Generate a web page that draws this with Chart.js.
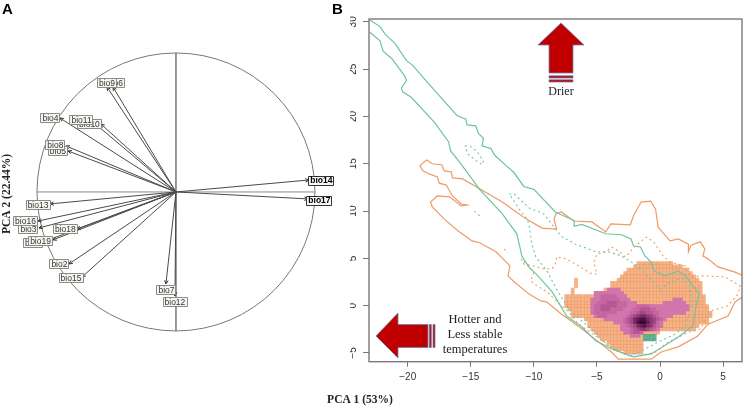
<!DOCTYPE html>
<html><head><meta charset="utf-8">
<script src="https://cdn.jsdelivr.net/npm/chart.js@4"></script>
<style>html,body{margin:0;padding:0;background:#fff;overflow:hidden}canvas{position:absolute;top:0}#a{left:0}#b{left:350px}</style>
</head><body>
<canvas id="b" width="396" height="407"></canvas>
<canvas id="a" width="400" height="407"></canvas>
<script>
// Panel A: PCA loadings, drawn back to front
const varNames = ['bio6','bio9','bio10','bio11','bio4','bio5','bio8','bio13','bio3','bio16','bio18','bio1','bio19','bio2','bio15','bio7','bio12','bio14','bio17'];
const loadX = [-0.453,-0.496,-0.54,-0.597,-0.835,-0.777,-0.791,-0.906,-0.986,-0.993,-0.712,-0.957,-0.885,-0.77,-0.676,-0.072,-0.007,0.957,0.95];
const loadY = [0.755,0.755,0.489,0.504,0.532,0.295,0.331,-0.086,-0.259,-0.209,-0.266,-0.36,-0.345,-0.518,-0.612,-0.662,-0.748,0.086,-0.05];
const labelX = [-0.442,-0.5,-0.626,-0.683,-0.906,-0.853,-0.871,-0.996,-1.065,-1.086,-0.799,-1.032,-0.978,-0.842,-0.759,-0.072,-0.011,1.043,1.029];
const labelY = [0.788,0.788,0.493,0.522,0.536,0.295,0.338,-0.09,-0.266,-0.205,-0.266,-0.363,-0.349,-0.514,-0.615,-0.701,-0.788,0.086,-0.058];
const boldVars = ['bio14','bio17'];

// Panel B: axes
const xTicks = [-20,-15,-10,-5,0,5];
const yTicks = [-5,0,5,10,15,20,25,30];

// Panel B: contours [PCA1, PCA2]
const tealSolid = [[-23,30.2],[-22.2,29.5],[-21.8,28.7],[-21,27.7],[-20.1,25.9],[-19.6,25.4],[-18.7,24],[-17.5,22.2],[-16.1,20.1],[-15.4,19.7],[-15.3,19.1],[-14.6,19],[-14.4,18.2],[-14,17.7],[-14.1,16.9],[-13.4,16.6],[-13.1,15.9],[-12.2,14.8],[-11.6,14.1],[-10.8,12.6],[-10,12.3],[-8.3,9.9],[-6.8,9],[-6.8,8.4],[-6.2,8.6],[-4.3,7.6],[-3.05,7.5],[-2.3,7.05],[-2.1,6.3],[-1.55,6.2],[-1.2,5.25],[-0.7,4.6],[-0.5,3.7],[0.4,3.15],[1.45,3.65],[2.05,3.15],[2.6,2.1],[3.1,1.25],[2.8,-0.35],[2.6,-2.15],[1.45,-3.3],[-0.7,-5.1],[-2.1,-5.4],[-3.85,-4.55],[-5.1,-3.7],[-6.2,-2.25],[-7.4,-1.1],[-8.55,1.45],[-9.6,3.05],[-10.4,4.1],[-10.95,5.25],[-11.35,7.6],[-12.5,9.7],[-14.3,12.3],[-15.9,15.2],[-16.6,16.35],[-16.75,17.3],[-17.9,19.4],[-19.7,22],[-20.4,22.6],[-20.5,23],[-20.1,23.8],[-20.25,24.3],[-21.25,26.1],[-21.95,26.9],[-22.2,28],[-23,28.9]];
const orangeSolid = [[-19.05,14.8],[-18.5,15.4],[-18.05,15],[-17.3,14.9],[-17.1,14.25],[-16.55,14.15],[-16.45,13.5],[-15.65,13.4],[-14.3,12.35],[-12.5,10.95],[-11.7,10.2],[-10.6,9.15],[-9.35,8.2],[-8.2,8.1],[-8.4,9.15],[-8.25,9.7],[-7.8,9.9],[-6.85,8.95],[-5.4,8.85],[-4.3,7.8],[-3.9,8.65],[-2.35,8.55],[-2.1,9.5],[-1.5,10.95],[-0.75,11.05],[-0.35,10.2],[-0.15,8.3],[0.8,6.85],[1.45,7.05],[2.25,6.5],[2.25,5.7],[2.45,6.4],[3.2,6.75],[3.55,6],[3.4,5.25],[3.8,4.95],[4.6,4.1],[5.95,3.55],[6.8,3.05],[6.8,1.15],[5.95,0.4],[5.4,-1.1],[3.8,-1.95],[3,-3.2],[1.45,-4.35],[0.1,-4.9],[-0.7,-5.65],[-3.3,-5.65],[-3.85,-4.9],[-6.2,-2.45],[-7.8,-0.9],[-9,0.4],[-9.45,0.5],[-10.4,1.25],[-11.55,2.5],[-12.05,3.15],[-11.9,4.2],[-13,5.7],[-14.3,6.65],[-14.9,6.85],[-16,7.9],[-17.1,9.15],[-18.05,10.45],[-18.2,10.95],[-17.65,11.6],[-16.7,11.5],[-15.75,10.55],[-15.3,10.65],[-15.75,10.75],[-16.45,11.6],[-16.95,12.75],[-17.5,12.95],[-17.65,13.6],[-18.25,13.9],[-18.8,14.25],[-19.05,14.8]];
const tealDashSmall = [[-15.45,16.9],[-15.1,16.9],[-14.55,16.35],[-14,15.3],[-14.1,14.9],[-14.55,15.3],[-15.25,16.05],[-15.45,16.9]];
const tealDash = [[-11.95,11.8],[-11.55,11.8],[-10.4,10.35],[-9.2,9.7],[-7.85,7.35],[-6.7,6.5],[-5.1,5.7],[-4.1,5.7],[-3.05,5.25],[-2.25,4.6],[-1.7,4.1],[-0.9,3.05],[0,1.75],[0.65,2.3],[1.7,2.95],[2.4,2],[2.45,-0.15],[2,-2.15],[1.2,-3],[-0.15,-3.85],[-1.5,-4.8],[-2.5,-5.3],[-4.1,-4.25],[-5.65,-2.25],[-7,-0.65],[-7.4,0],[-8.2,1.75],[-8.95,3.65],[-9.85,5.15],[-10.15,6.5],[-10.4,8.65],[-10.55,9.15],[-11.15,10.2],[-11.8,11.5],[-11.95,11.8]];
const orangeDash = [[-11,4.95],[-10.8,4.4],[-10,4.2],[-9.35,3.9],[-8.55,3.9],[-8.25,4.6],[-8.2,5.15],[-7.45,4.95],[-6.45,4.2],[-5.4,3.35],[-5,3.35],[-5.25,4.6],[-5,5.45],[-4.25,5.7],[-3.85,6.2],[-3.3,5.8],[-2.75,5.15],[-1.95,6.3],[-1.1,7.25],[-0.5,6.75],[0.25,5.25],[0.8,4.6],[2,4.2],[2.4,3.05],[3.4,3.15],[5.15,3.05],[6.35,2.1],[6.2,1.25],[5.4,0],[3.8,-0.65],[3.25,-2.45],[2.25,-2.8],[0.65,-3.85],[-0.35,-4.9],[-1.95,-5.4],[-3.3,-4.9],[-5.1,-3.2],[-6.45,-1.95],[-7.25,-0.65],[-8,0.2],[-8.95,1.45],[-9.75,2.1],[-10.25,2.6],[-10,3.55],[-11,4.95]];
const orangeDots1 = [[-14.7,10],[-14.3,9.5]];
const orangeDots2 = [[-12.35,6],[-12.05,5.6]];

// Panel B: raster, on a regular grid of cells
const gridX0 = -7.7, gridDX = 0.26, gridY0 = 4.5, gridDY = 0.35;
const orangeRow  = [0,1,2,3,4,5,6,7,8,9,10,11,12,13,14,15,16,17,18,19,20,21,22,23,24,25,26,27,5,6,7,8,9];
const orangeFrom = [23,22,20,19,18,17,15,15,13,12,1,1,1,1,2,3,3,7,8,8,9,10,11,12,14,15,16,19,4,4,4,3,3];
const orangeTo   = [33,36,38,39,40,41,42,42,42,42,43,43,43,44,44,45,45,44,44,41,40,29,24,24,24,24,24,24,4,4,4,3,3];
const tealCellCol = [11,25,26,27,28,25,26,27,28];
const tealCellRow = [9,22,22,22,22,23,23,23,23];
const densityFirstRow = 8, densityFirstCol = 9;
const densityRows = [
 ".....1111",
 ".111111111",
 ".1122222111",
 "111222222111.............111",
 "11222333222111........1111111",
 "122333332221112222111111111111",
 "122333222211122333221111111111",
 "12222222111122344332211111111",
 ".122211111123456654321111",
 "....1111112346788654321",
 ".......111234689975421",
 ".........1123467865321",
 ".........111234554321",
 "..........112332",
 "............111"
];
const densityColors = [null,'#d275ad','#c665a2','#b55794','#a24786','#8e3775','#792965','#631c55','#4f1045','#3d0837'];

const cell = (c,r)=>({x:gridX0+gridDX*c, y:gridY0-gridDY*r});
const orangeCells = [];
orangeRow.forEach((r,i)=>{for(let c=orangeFrom[i];c<=orangeTo[i];c++)orangeCells.push(cell(c,r));});
const tealCells = tealCellCol.map((c,i)=>cell(c,tealCellRow[i]));
const densityCells = [], densityFill = [];
densityRows.forEach((s,r)=>{[...s].forEach((ch,c)=>{const v=+ch; if(ch!=='.'&&v>0){densityCells.push(cell(c+densityFirstCol,r+densityFirstRow));densityFill.push(densityColors[v]);}});});
const pts = a=>a.map(p=>({x:p[0],y:p[1]}));

const SERIF='"Liberation Serif", serif', SANS='"Liberation Sans", sans-serif';
const base = {animation:false,responsive:false,events:[],plugins:{legend:{display:false},tooltip:{enabled:false}}};
const lineSet = (d,col,w,dash)=>({type:'scatter',showLine:true,data:d,borderColor:col,borderWidth:w,borderDash:dash||[],pointRadius:0,tension:0,fill:false});

// ---------- Panel A
const aDatasets = [
  lineSet([{x:-1,y:0},{x:1,y:0}],'#8a8a8a',1),
  lineSet([{x:0,y:1},{x:0,y:-1}],'#8a8a8a',1),
];
varNames.forEach((n,i)=>aDatasets.unshift(lineSet([{x:0,y:0},{x:loadX[i],y:loadY[i]}],'#4a4a4a',1)));
const panelA = {id:'panelA',
 beforeDatasetsDraw(ch){const {ctx,scales:{x,y}}=ch;ctx.save();ctx.strokeStyle='#777';ctx.lineWidth=1;ctx.beginPath();
   ctx.arc(x.getPixelForValue(0),y.getPixelForValue(0),x.getPixelForValue(1)-x.getPixelForValue(0),0,Math.PI*2);ctx.stroke();ctx.restore();},
 afterDatasetsDraw(ch){const {ctx,scales:{x,y}}=ch;ctx.save();
   varNames.forEach((n,i)=>{const tx=x.getPixelForValue(loadX[i]),ty=y.getPixelForValue(loadY[i]),ox=x.getPixelForValue(0),oy=y.getPixelForValue(0);
     const ang=Math.atan2(ty-oy,tx-ox);ctx.strokeStyle='#333';ctx.lineWidth=1;ctx.beginPath();
     ctx.moveTo(tx-4*Math.cos(ang-0.45),ty-4*Math.sin(ang-0.45));ctx.lineTo(tx,ty);ctx.lineTo(tx-4*Math.cos(ang+0.45),ty-4*Math.sin(ang+0.45));ctx.stroke();});
   ctx.textAlign='center';ctx.textBaseline='middle';
   varNames.forEach((n,i)=>{const bold=boldVars.includes(n);const cx=x.getPixelForValue(labelX[i]),cy=y.getPixelForValue(labelY[i]);
     ctx.font=(bold?'bold ':'')+'8.5px '+SANS;const w=ctx.measureText(n).width+3;
     ctx.fillStyle='#f7f7f2';ctx.strokeStyle=bold?'#333':'#8a8a86';ctx.lineWidth=1;
     ctx.beginPath();ctx.rect(Math.round(cx-w/2)+.5,Math.round(cy-4.5)+.5,Math.round(w),9);ctx.fill();ctx.stroke();
     ctx.fillStyle=bold?'#000':'#333';ctx.fillText(n,cx+.5,cy+.8);});
   ctx.fillStyle='#000';ctx.textAlign='left';ctx.textBaseline='alphabetic';ctx.font='bold 15px '+SANS;ctx.fillText('A',2,14);ctx.fillText('B',332,14);
   ctx.fillStyle='#222';ctx.font='bold 11.5px '+SERIF;ctx.textAlign='center';ctx.fillText('PCA 1 (53%)',360,403);
   ctx.save();ctx.translate(9.5,194);ctx.rotate(-Math.PI/2);ctx.fillText('PCA 2 (22.44%)',0,0);ctx.restore();
   ctx.restore();}
};
new Chart(document.getElementById('a'),{type:'scatter',data:{datasets:aDatasets},plugins:[panelA],options:{...base,layout:{padding:0},
 scales:{x:{display:false,type:'linear',min:-1.266,max:1.612},y:{display:false,type:'linear',min:-1.547,max:1.381}}}});

// ---------- Panel B
const TEAL='#6cc3a6', ORANGE='#ee9b63';
const cellSet=(d,col)=>({type:'scatter',data:d,pointStyle:'rect',pointRadius:2.65,pointBorderWidth:0,pointBackgroundColor:col,showLine:false});
const bDatasets=[
 lineSet(pts(tealSolid),TEAL,1.2),
 lineSet(pts(orangeSolid),ORANGE,1.2),
 lineSet(pts(tealDashSmall),TEAL,1.1,[2,3]),
 lineSet(pts(tealDash),TEAL,1.1,[2,3]),
 lineSet(pts(orangeDash),ORANGE,1.1,[2,3]),
 lineSet(pts(orangeDots1),ORANGE,1.1,[2,3]),
 lineSet(pts(orangeDots2),ORANGE,1.1,[2,3]),
 cellSet(densityCells,densityFill),
 cellSet(tealCells,'rgba(70,160,130,0.85)'),
 cellSet(orangeCells,'rgba(236,130,60,0.6)'),
];
const panelB={id:'panelB',
 afterDraw(ch){const {ctx,chartArea:a}=ch;const ox=-350;ctx.save();
   ctx.strokeStyle='#7a7a7a';ctx.lineWidth=1.4;ctx.strokeRect(a.left,a.top,a.right-a.left,a.bottom-a.top);
   const outline=()=>{ctx.fillStyle='#c00000';ctx.fill();ctx.strokeStyle='#6c82ac';ctx.lineWidth=0.8;ctx.stroke();};
   // up arrow
   ctx.beginPath();[[561,23],[584,45],[573,45],[573,73],[549,73],[549,45],[538,45]].forEach((p,i)=>i?ctx.lineTo(p[0]+ox,p[1]):ctx.moveTo(p[0]+ox,p[1]));ctx.closePath();outline();
   ctx.beginPath();ctx.rect(549+ox,75.8,24,2.2);outline();ctx.beginPath();ctx.rect(549+ox,79.8,24,2.2);outline();
   // left arrow
   ctx.beginPath();[[376,336],[398,313],[398,324.5],[428,324.5],[428,347.5],[398,347.5],[398,358]].forEach((p,i)=>i?ctx.lineTo(p[0]+ox,p[1]):ctx.moveTo(p[0]+ox,p[1]));ctx.closePath();outline();
   ctx.beginPath();ctx.rect(429.3,324.5,0,0);ctx.rect(429.3+ox,324.5,2,23);outline();ctx.beginPath();ctx.rect(433+ox,324.5,2,23);outline();
   ctx.fillStyle='#222';ctx.textAlign='center';ctx.textBaseline='middle';ctx.font='12px '+SERIF;ctx.fillText('Drier',561+ox,92);
   ctx.font='12.5px '+SERIF;ctx.fillText('Hotter and',475+ox,320);ctx.fillText('Less stable',475+ox,335);ctx.fillText('temperatures',475+ox,350);
   ctx.restore();}
};
const minus=v=>String(v).replace('-','\u2212');
new Chart(document.getElementById('b'),{type:'scatter',data:{datasets:bDatasets},plugins:[panelB],options:{...base,
 layout:{padding:{left:0,top:19,right:2,bottom:0}},
 scales:{
  x:{type:'linear',min:-23.07,max:6.5,afterBuildTicks(s){s.ticks=xTicks.map(v=>({value:v}));},afterFit(s){s.height=45.3;},
     grid:{display:true,drawOnChartArea:false,drawTicks:true,tickLength:5,tickColor:'#777',tickWidth:1},border:{display:false},
     ticks:{padding:5,maxRotation:0,autoSkip:false,color:'#333',font:{family:SANS,size:10},callback:v=>minus(v)}},
  y:{type:'linear',min:-5.92,max:30.3,afterBuildTicks(s){s.ticks=yTicks.map(v=>({value:v}));},afterFit(s){s.width=19;},
     grid:{display:true,drawOnChartArea:false,drawTicks:true,tickLength:6,tickColor:'#777',tickWidth:1},border:{display:false},
     ticks:{padding:4.5,minRotation:90,maxRotation:90,crossAlign:'center',autoSkip:false,color:'#333',font:{family:SANS,size:10},callback:v=>minus(v)}}
 }}});
</script>
</body></html>
